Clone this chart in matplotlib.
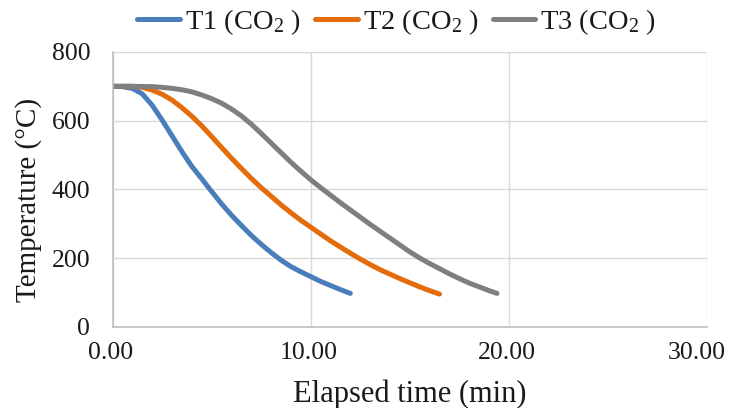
import matplotlib
matplotlib.use("Agg")
import matplotlib.pyplot as plt
import matplotlib.transforms as mtransforms

# readings (time in min, temperature in C)
t1_time = [0, 0.5, 1.0, 1.5, 2.0, 2.5, 3.0, 3.5, 4.0, 4.5, 4.9, 5.5, 6.0, 6.5, 7.0, 7.5,
           8.0, 8.5, 9.0, 9.5, 10.0, 10.5, 11.0, 11.5, 12.0]
t1_temp = [700, 699, 694, 678, 645, 602, 556, 510, 467, 431, 401, 358, 325, 295, 266, 240,
           216, 194, 175, 160, 146, 132, 120, 108, 97]

t2_time = [0, 1.0, 1.5, 2.0, 2.5, 3.0, 3.5, 4.0, 4.5, 5.0, 5.5, 6.0, 6.5, 7.0, 7.5, 8.0,
           8.5, 9.0, 9.5, 10.0, 10.5, 11.0, 11.5, 12.0, 12.5, 13.0, 13.5, 14.0, 14.5,
           15.0, 15.5, 16.0, 16.5]
t2_temp = [700, 700, 697, 689, 677, 660, 638, 613, 585, 554, 522, 491, 461, 432, 405, 380,
           355, 332, 310, 290, 270, 250, 232, 214, 197, 181, 166, 153, 140,
           128, 116, 105, 95]

t3_time = [0, 1.0, 2.0, 2.5, 3.0, 3.5, 4.0, 4.5, 5.0, 5.5, 6.0, 6.5, 7.0, 7.5, 8.0, 8.5,
           9.0, 9.5, 10.0, 10.5, 11.0, 11.5, 12.0, 12.5, 13.0, 13.5, 14.0, 14.5, 15.0,
           15.5, 16.0, 16.5, 17.0, 17.5, 18.0, 18.5, 19.0, 19.4]
t3_temp = [700, 700, 699, 697, 694, 690, 684, 675, 664, 651, 634, 614, 590, 563, 535, 507,
           479, 453, 428, 405, 383, 361, 340, 319, 298, 278, 258, 238, 218,
           200, 184, 169, 154, 140, 127, 116, 105, 97]

series_names = ["T1 (CO$_2$ )", "T2 (CO$_2$ )", "T3 (CO$_2$ )"]
colors = ["#4A7EBB", "#E46C0A", "#7F7F7F"]
x_ticks = [0, 10, 20, 30]
x_labels = ["0.00", "10.00", "20.00", "30.00"]
y_ticks = [0, 200, 400, 600, 800]

plt.rcParams["font.family"] = ["Liberation Serif", "DejaVu Serif"]
plt.rcParams["mathtext.fontset"] = "custom"
plt.rcParams["mathtext.rm"] = "Liberation Serif"
plt.rcParams["mathtext.it"] = "Liberation Serif:italic"

fig = plt.figure(figsize=(7.32, 4.08), dpi=100)
ax = fig.add_axes([0.1537, 0.1993, 0.8122, 0.6733])

for x, y, name, c in zip([t1_time, t2_time, t3_time], [t1_temp, t2_temp, t3_temp], series_names, colors):
    ax.plot(x, y, color=c, lw=3.6, solid_capstyle="round", solid_joinstyle="round", label=name)

ax.set_xlim(0, 30)
ax.set_ylim(0, 800)
ax.set_xticks(x_ticks)
ax.set_xticklabels(x_labels)
ax.set_yticks(y_ticks)
ax.grid(True, color="#D9D9D9", lw=1)
ax.set_axisbelow(True)
ax.tick_params(length=0, labelsize=18.5, colors="#1a1a1a")
ax.tick_params(axis="x", pad=11)
ax.tick_params(axis="y", pad=16)
for s in ["top", "right"]:
    ax.spines[s].set_visible(False)
for s in ["left", "bottom"]:
    ax.spines[s].set_color("#BFBFBF")
    ax.spines[s].set_linewidth(1.2)

# excel pulls the last x label inward so it fits
for lab in ax.get_xticklabels():
    lab.set_transform(lab.get_transform() + mtransforms.ScaledTranslation(-2 / 100, 0, fig.dpi_scale_trans))
last = ax.get_xticklabels()[-1]
last.set_transform(last.get_transform() + mtransforms.ScaledTranslation(-8 / 100, 0, fig.dpi_scale_trans))

ax.set_xlabel("Elapsed time (min)", fontsize=22, labelpad=11.5, color="#1a1a1a")
ax.set_ylabel("Temperature (\u00b0C)", fontsize=21, color="#1a1a1a")
ax.yaxis.set_label_coords(-0.1186, 0.461)

fig.legend(loc="center", bbox_to_anchor=(0.542, 0.946), ncol=3, frameon=False,
           fontsize=20.5, handlelength=1.5, handletextpad=0.17, columnspacing=0.5,
           borderpad=0, labelcolor="#1a1a1a")

fig.savefig("out.png", dpi=100)
